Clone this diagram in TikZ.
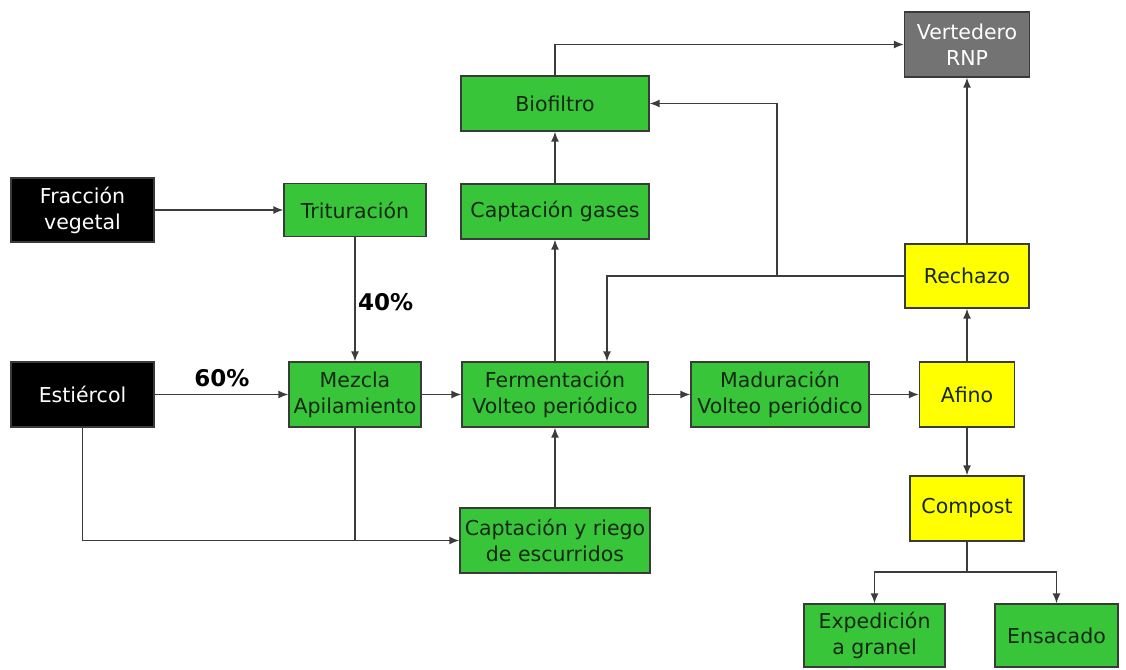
\documentclass[tikz,border=0pt]{standalone}
\usepackage{fontspec}
\setmainfont{DejaVu Sans}
\usepackage{xcolor}
\usetikzlibrary{arrows.meta}
\definecolor{boxgreen}{RGB}{57,197,57}
\definecolor{boxyellow}{RGB}{255,255,0}
\definecolor{boxgray}{RGB}{115,115,115}
\definecolor{boxline}{RGB}{55,60,55}
\definecolor{boxtext}{RGB}{20,40,20}
\definecolor{linkgray}{RGB}{60,60,60}
\begin{document}
\begin{tikzpicture}[x=1pt,y=-1pt]
	\tikzstyle{every node}+=[inner sep=0pt, align=center, font=\fontsize{20.5}{26}\selectfont]
	\tikzstyle{box}=[draw=boxline, line width=1.3pt, text=boxtext]
	\tikzstyle{greenbox}=[box, fill=boxgreen]
	\tikzstyle{yellowbox}=[box, fill=boxyellow]
	\tikzstyle{blackbox}=[box, fill=black, text=white]
	\tikzstyle{graybox}=[box, fill=boxgray, text=white]
	\tikzstyle{wire}=[draw=linkgray, line width=1.5pt]
	\tikzstyle{link}=[wire, -{Latex[length=10pt,width=8pt]}]
	\tikzstyle{pct}=[font=\fontsize{23}{26}\selectfont\bfseries]
	\useasboundingbox (0,0) rectangle (1126,669);
	\node [blackbox, minimum width=143, minimum height=64] (frac) at (82.5,210) {Fracción\\vegetal};
	\node [greenbox, minimum width=142, minimum height=53] (trit) at (355,210) {Trituración};
	\node [blackbox, minimum width=143, minimum height=65] (est) at (82.5,394.5) {Estiércol};
	\node [greenbox, minimum width=132, minimum height=65] (mez) at (355,394.5) {Mezcla\\Apilamiento};
	\node [greenbox, minimum width=186, minimum height=65] (ferm) at (555,394.5) {Fermentación\\Volteo periódico};
	\node [greenbox, minimum width=178, minimum height=65] (mad) at (780,394.5) {Maduración\\Volteo periódico};
	\node [yellowbox, minimum width=95, minimum height=65] (afino) at (967,394.5) {Afino};
	\node [yellowbox, minimum width=114, minimum height=65] (comp) at (967,508.5) {Compost};
	\node [greenbox, minimum width=190, minimum height=65] (capr) at (555,540.5) {Captación y riego\\de escurridos};
	\node [greenbox, minimum width=141, minimum height=63] (exp) at (874.5,635.5) {Expedición\\a granel};
	\node [greenbox, minimum width=123, minimum height=63] (ens) at (1056.5,635.5) {Ensacado};
	\node [greenbox, minimum width=188, minimum height=55] (bio) at (555,103.5) {Biofiltro};
	\node [greenbox, minimum width=188, minimum height=55] (capg) at (555,211.5) {Captación gases};
	\node [yellowbox, minimum width=124, minimum height=64] (rech) at (967,276) {Rechazo};
	\node [graybox, minimum width=125, minimum height=65] (vert) at (967,44.5) {Vertedero\\RNP};
	\node [pct, anchor=west] (p40) at (358,302) {40\%};
	\node [pct] (p60) at (222,378) {60\%};
	\coordinate (rf) at (607,0);
	\coordinate (rb) at (777,276);
	\coordinate (cs) at (967,572);
	\draw [link] (frac) -- (trit);
	\draw [link] (trit) -- (mez);
	\draw [link] (est) -- (mez);
	\draw [link] (mez) -- (ferm);
	\draw [link] (ferm) -- (mad);
	\draw [link] (mad) -- (afino);
	\draw [link] (afino) -- (comp);
	\draw [link] (afino) -- (rech);
	\draw [link] (rech) -- (vert);
	\draw [link] (ferm) -- (capg);
	\draw [link] (capg) -- (bio);
	\draw [link] (capr) -- (ferm);
	\draw [link] (bio.north) |- (vert.west);
	\draw [link] (rech.west) -| (ferm.north -| rf);
	\draw [link] (rb) |- (bio.east);
	\draw [link] (est.south) |- (capr.west);
	\draw [wire] (mez.south) -- (mez.south |- capr.west);
	\draw [wire] (comp.south) -- (cs);
	\draw [link] (cs) -| (exp.north);
	\draw [link] (cs) -| (ens.north);
\end{tikzpicture}
\end{document}
